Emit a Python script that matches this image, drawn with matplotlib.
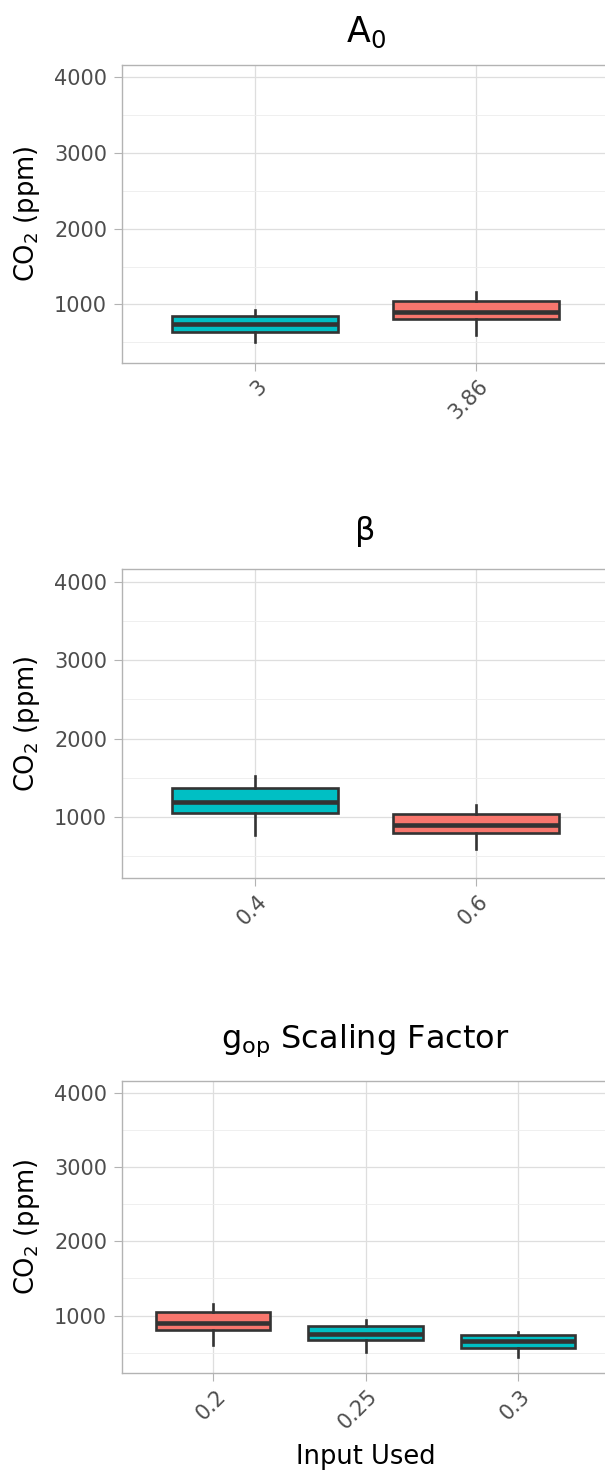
import matplotlib
matplotlib.use("Agg")
import matplotlib.pyplot as plt
import matplotlib.transforms as mtransforms
import numpy as np

# box summaries (CO2 in ppm)
a0_labels = ["3", "3.86"]
a0_whislo = [500, 600]
a0_q1 = [641, 803]
a0_med = [737, 902]
a0_q3 = [846, 1045]
a0_whishi = [921, 1160]

beta_labels = ["0.4", "0.6"]
beta_whislo = [770, 600]
beta_q1 = [1055, 803]
beta_med = [1188, 902]
beta_q3 = [1366, 1045]
beta_whishi = [1527, 1160]

gop_labels = ["0.2", "0.25", "0.3"]
gop_whislo = [600, 503, 440]
gop_q1 = [803, 671, 564]
gop_med = [902, 747, 653]
gop_q3 = [1045, 857, 737]
gop_whishi = [1160, 937, 783]

TEAL = "#00BFC4"
RED = "#F8766D"
W, H = 605, 1472

fig = plt.figure(figsize=(W / 100, H / 100), dpi=100)

# (title, title size, labels, stats..., colours, axes top px, axes bottom px, title baseline px)
panels = [
    (r"$\mathregular{A_0}$", 25, a0_labels, a0_whislo, a0_q1, a0_med, a0_q3, a0_whishi,
     [TEAL, RED], 65, 363, 42.5),
    ("β", 23, beta_labels, beta_whislo, beta_q1, beta_med, beta_q3, beta_whishi,
     [TEAL, RED], 569, 878, 540),
    (r"$\mathregular{g_{op}}$ Scaling Factor", 23, gop_labels, gop_whislo, gop_q1, gop_med,
     gop_q3, gop_whishi, [RED, TEAL, TEAL], 1081, 1373, 1048),
]

left, right = 122, 609
for i, (title, tsize, labels, lo, q1, med, q3, hi, cols, top, bot, tb) in enumerate(panels):
    ax = fig.add_axes([left / W, 1 - bot / H, (right - left) / W, (bot - top) / H])
    n = len(labels)
    pos = np.arange(1, n + 1)
    stats = [dict(whislo=lo[k], q1=q1[k], med=med[k], q3=q3[k], whishi=hi[k], fliers=[])
             for k in range(n)]
    bp = ax.bxp(stats, positions=pos, widths=0.75, patch_artist=True, showcaps=False,
                boxprops=dict(edgecolor="#333333", linewidth=1.9),
                medianprops=dict(color="#333333", linewidth=3.3, solid_capstyle="butt"),
                whiskerprops=dict(color="#333333", linewidth=1.9), zorder=3)
    for patch, c in zip(bp["boxes"], cols):
        patch.set_facecolor(c)

    ax.set_xlim(0.4, n + 0.6)
    ax.set_ylim(225, 4163)
    ax.set_yticks([1000, 2000, 3000, 4000])
    ax.set_yticks([500, 1500, 2500, 3500], minor=True)
    ax.set_xticks(pos, labels)
    ax.grid(True, which="major", color="#DEDEDE", linewidth=0.9, zorder=0)
    ax.grid(True, which="minor", axis="y", color="#EDEDED", linewidth=0.6, zorder=0)
    ax.set_axisbelow(True)
    for sp in ax.spines.values():
        sp.set_color("#B3B3B3")
        sp.set_linewidth(1.0)
    ax.tick_params(axis="both", which="major", color="#B3B3B3", length=5.8, width=0.8,
                   labelcolor="#4D4D4D", labelsize=15)
    ax.tick_params(axis="y", which="major", pad=5)
    ax.tick_params(axis="x", which="major", pad=8.6)
    ax.tick_params(axis="y", which="minor", length=0)
    offset = mtransforms.ScaledTranslation(0.09, 0, fig.dpi_scale_trans)
    for lab in ax.get_xticklabels():
        lab.set_rotation(45)
        lab.set_ha("right")
        lab.set_va("center")
        lab.set_rotation_mode("anchor")
        lab.set_transform(lab.get_transform() + offset)

    ax.set_ylabel(r"$\mathregular{CO_2}$ (ppm)", fontsize=18.5, va="center")
    ax.yaxis.set_label_coords((27 - left) / (right - left), 0.5)

    fig.text((left + right) / 2 / W, 1 - tb / H, title, fontsize=tsize,
             ha="center", va="baseline")

    if i == 2:
        ax.set_xlabel("Input Used", fontsize=18.5, va="baseline")
        ax.xaxis.set_label_coords(0.5, -(1464 - bot) / (bot - top))

fig.savefig("out.png", dpi=100)
